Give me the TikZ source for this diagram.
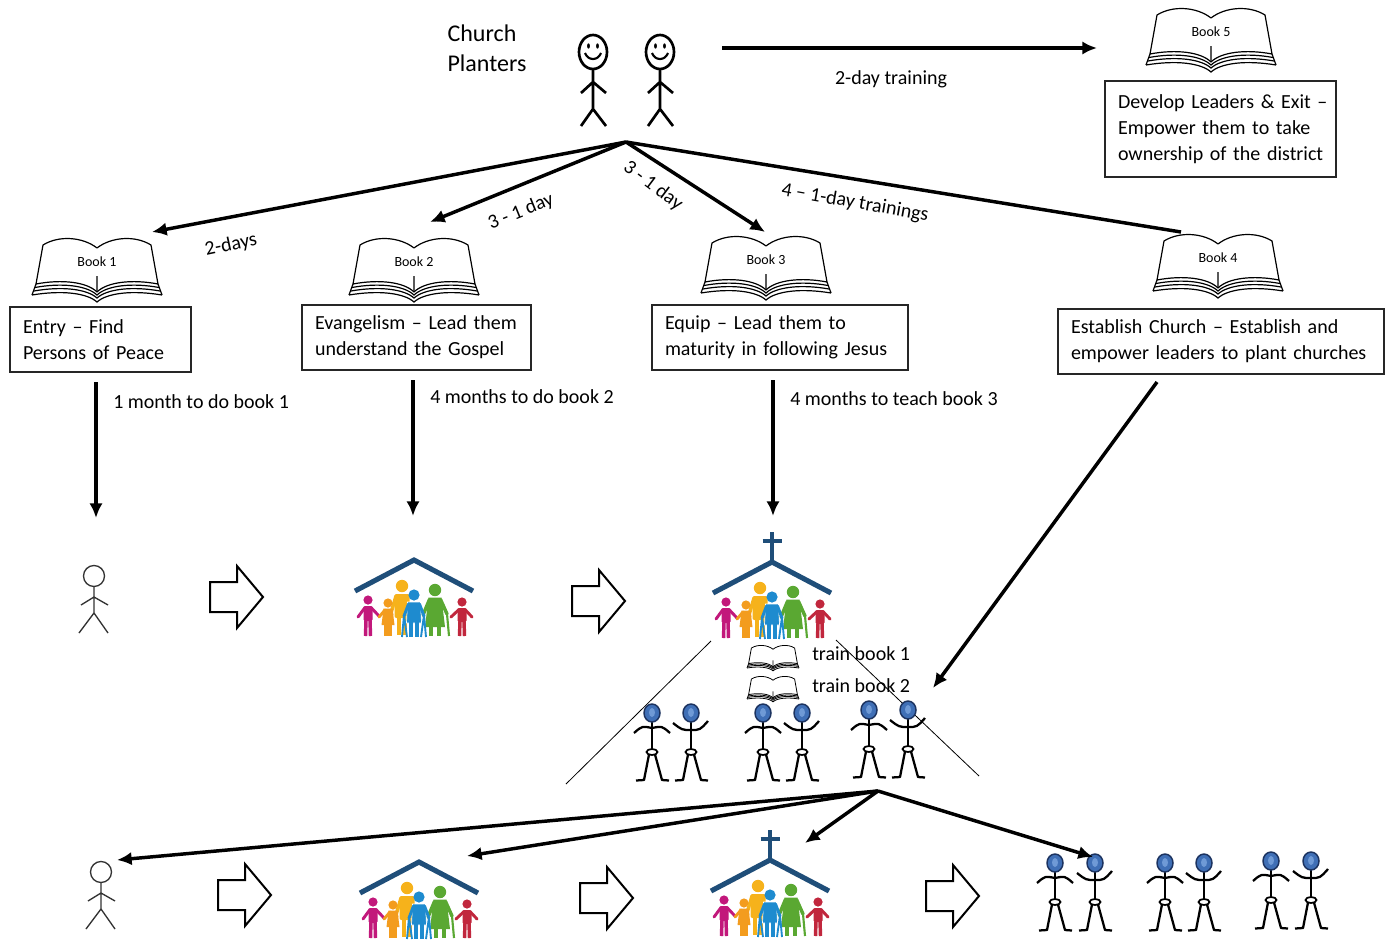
\documentclass[tikz,border=0pt]{standalone}
\usepackage{fontspec}
\setmainfont{Carlito}
\usetikzlibrary{arrows.meta}

\definecolor{roofblue}{HTML}{1F4E79}
\definecolor{kidmag}{HTML}{C2187B}
\definecolor{kidora}{HTML}{F39C1E}
\definecolor{adultyel}{HTML}{F6B21B}
\definecolor{elderblu}{HTML}{1E8BCF}
\definecolor{grangrn}{HTML}{5AA832}
\definecolor{kidred}{HTML}{C1273D}
\definecolor{headfill}{HTML}{3F6FB6}
\definecolor{headrim}{HTML}{1C3360}
\definecolor{headlite}{HTML}{6F9AD6}

% the family under a roof
\newcommand\familyshapes{%
  \draw[roofblue, line width=3.8pt, line join=miter] (-59,31) -- (0,0) -- (59,31);
  % yellow adult, behind
  \fill[adultyel] (-12,26) circle (6.2);
  \fill[adultyel, rounded corners=1.5pt] (-19.5,34) rectangle (-4.5,58);
  \draw[adultyel, line width=2.6pt, line cap=round] (-18,36) -- (-23,53);
  \draw[adultyel, line width=3pt] (-15,57) -- (-15,75) (-9,57) -- (-9,75);
  % magenta child
  \fill[kidmag] (-46,40) circle (4.6);
  \fill[kidmag, rounded corners=1pt] (-50.5,46) rectangle (-41.5,61);
  \draw[kidmag, line width=2.2pt, line cap=round] (-49,47.5) -- (-56,57) (-43,47.5) -- (-35,56);
  \draw[kidmag, line width=2.6pt] (-48,60) -- (-48.5,76) (-44,60) -- (-43.5,76);
  % orange child
  \fill[kidora] (-26,43) circle (4.6);
  \fill[kidora] (-30.5,48.5) -- (-21.5,48.5) -- (-19.5,65) -- (-32.5,65) -- cycle;
  \draw[kidora, line width=2.2pt, line cap=round] (-29,50) -- (-35,57) (-23,50) -- (-22,55);
  \draw[kidora, line width=2.6pt] (-28,64) -- (-28,76) (-24,64) -- (-24,76);
  % green grandmother with cane
  \fill[grangrn] (21,30) circle (6.2);
  \fill[grangrn] (14.5,37.5) -- (27.5,37.5) -- (31,67) -- (11,67) -- cycle;
  \draw[grangrn, line width=2.6pt, line cap=round] (15.5,39.5) -- (9,55) (26.5,39.5) -- (33,54);
  \draw[grangrn, line width=2.8pt] (17,66) -- (17,76) (25,66) -- (25,76);
  \draw[grangrn, line width=1.6pt] (33,54) -- (35,76);
  % crimson child
  \fill[kidred] (48,42) circle (4.6);
  \fill[kidred, rounded corners=1pt] (43.5,48) rectangle (52.5,62);
  \draw[kidred, line width=2.2pt, line cap=round] (45,49.5) -- (37,57) (51,49.5) -- (58,57);
  \draw[kidred, line width=2.6pt] (46,61) -- (45.5,76) (50,61) -- (50.5,76);
  % blue elder with walker, in front
  \fill[elderblu] (0,35) circle (5.6);
  \fill[elderblu, draw=white, line width=0.5pt] (-6.5,42) -- (6.5,42) -- (7.5,63) -- (-7.5,63) -- cycle;
  \draw[elderblu, line width=2.2pt, line cap=round] (-5.5,44) -- (-10,56) (5.5,44) -- (10,56);
  \draw[elderblu, line width=2.8pt] (-3,62) -- (-3,77) (3,62) -- (3,77);
  \draw[elderblu, line width=1.4pt] (-10,55) -- (-12,77) (-10,55) -- (-7,77) (10,55) -- (12,77) (10,55) -- (7,77);
}

% stick figure with a blue head
\newcommand\bluebody{%
  \draw[line width=1.7pt] (0,9) -- (0,36);
  \draw[line width=1.3pt, fill=white] (0,39) ellipse [x radius=5.5, y radius=3];
  \draw[line width=1.7pt, line join=round] (-3,41.5) -- (-8,67) -- (-16,67.5) (3,41.5) -- (10,67) -- (17,67.5);
  \filldraw[fill=headfill, draw=headrim, line width=1.1pt] (0,0) ellipse [x radius=8, y radius=9];
  \fill[headlite] (0,-0.5) ellipse [x radius=3, y radius=4.5];
}

\tikzset{
  txt/.style={font=\fontsize{15}{19.5}\selectfont, inner sep=0pt},
  box/.style={draw=black!85, line width=0.8pt, font=\fontsize{15}{19.5}\selectfont,
    align=left, inner xsep=9.75pt, inner ysep=0pt},
  bigarrow/.style={line width=2.6pt, -{Latex[length=11pt,width=10pt]}},
  plainline/.style={line width=2.6pt},
  thinline/.style={line width=0.6pt},
  blockarrow/.style={draw=black, line width=1.5pt, line join=miter, fill=white},
  pics/book/.style={code={
    \filldraw[fill=white, line width=\booklw, line join=round]
      (-61,14) -- (-54,-25) .. controls (-38,-35) and (-14,-33) .. (0,-22)
      .. controls (14,-33) and (38,-35) .. (54,-25) -- (61,14)
      .. controls (35,9) and (10,12) .. (0,22)
      .. controls (-10,12) and (-35,9) .. (-61,14) -- cycle;
    \draw[line width=\booklw] (-62,17.5) .. controls (-35,12.5) and (-10,15.5) .. (0,25)
      .. controls (10,15.5) and (35,12.5) .. (62,17.5);
    \draw[line width=\booklw] (-63,21) .. controls (-35,16) and (-10,19) .. (0,28)
      .. controls (10,19) and (35,16) .. (63,21);
    \draw[line width=\booklw] (-65,25) .. controls (-35,20) and (-10,23) .. (0,32)
      .. controls (10,23) and (35,20) .. (65,25);
    \draw[line width=\booklw] (-61,14) -- (-65,25) (61,14) -- (65,25) (0,6) -- (0,22);
    \node[font=\fontsize{10.5}{10.5}\selectfont, inner sep=0pt] (-lbl) at (0,-8) {#1};
  }},
  pics/smiley/.style={code={
    \draw[line width=2pt] (0,0) ellipse [x radius=14, y radius=17];
    \fill (-4.5,-6) ellipse [x radius=1.4, y radius=2.7];
    \fill (4.5,-6) ellipse [x radius=1.4, y radius=2.7];
    \draw[line width=1.6pt] (-8,1) .. controls (-5,9) and (5,9) .. (8,1);
    \draw[line width=2pt] (0,17) -- (0,57) (-12,41) -- (0,30) -- (13,41) (-12,74) -- (0,57) -- (13,74);
  }},
  pics/stick/.style={code={
    \draw[line width=1pt, draw=black!80] (0,0) circle (10.5);
    \draw[line width=1pt, draw=black!80] (0,10.5) -- (0,37) (-13,29) -- (0,21) -- (14,29)
      (-15,57) -- (0,37) -- (14,57);
  }},
  pics/fatarrow/.style={code={
    \draw[blockarrow] (0,-15) -- (27,-15) -- (27,-31) -- (53,0) -- (27,31) -- (27,15) -- (0,15) -- cycle;
  }},
  pics/family/.style={code={\familyshapes}},
  pics/church/.style={code={
    \familyshapes
    \draw[roofblue, line width=3pt] (0,-30) -- (0,0) (-9.5,-21) -- (9.5,-21);
  }},
  pics/bluedown/.style={code={
    \bluebody
    \draw[line width=1.7pt] (-18,20) .. controls (-10,13) .. (0,15) .. controls (10,13) .. (18,20);
  }},
  pics/blueup/.style={code={
    \bluebody
    \draw[line width=1.7pt] (-18,10) .. controls (-9,17) .. (0,17) .. controls (9,17) .. (17,8);
  }},
}
\newcommand\booklw{0.9pt}

\begin{document}
\begin{tikzpicture}[x=0.75pt, y=-0.75pt]
\useasboundingbox (0,0) rectangle (1385,939);
\fill[white] (0,0) rectangle (1385,939);

% ---------- church planters and district leaders ----------
\node[font=\fontsize{18}{22.5}\selectfont, align=left, inner sep=0pt] (planters) at (487,48) {Church\\Planters};
\pic at (593,52) {smiley};
\pic at (660,52) {smiley};

\coordinate (trainstart) at (722,48);
\coordinate (trainend) at (1097,48);
\draw[bigarrow] (trainstart) -- (trainend);
\node[txt] (twoday) at (891,79) {2-day training};

\pic (bk5) at (1211,40) {book=Book 5};
\node[box, text width=153.75pt, minimum height=72pt] (develop) at (1220.5,129)
  {\mbox{Develop Leaders \& Exit –}\\\mbox{Empower them to take}\\\mbox{ownership of the district}};

% ---------- the four training books ----------
\pic (bk1) at (97,270) {book=Book 1};
\pic (bk2) at (414,270) {book=Book 2};
\pic (bk3) at (766,268) {book=Book 3};
\pic (bk4) at (1218,266) {book=Book 4};

\node[box, text width=116.25pt, minimum height=48.75pt] (entry) at (100.5,339.5)
  {\mbox{Entry – Find}\\\mbox{Persons of Peace}};
\node[box, text width=152.25pt, minimum height=48.75pt] (evang) at (416.5,337.5)
  {\mbox{Evangelism – Lead them}\\\mbox{understand the Gospel}};
\node[box, text width=172.5pt, minimum height=48.75pt] (equip) at (780,337.5)
  {\mbox{Equip – Lead them to}\\\mbox{maturity in following Jesus}};
\node[box, text width=225pt, minimum height=48.75pt] (establish) at (1221,341.5)
  {\mbox{Establish Church – Establish and}\\\mbox{empower leaders to plant churches}};

% fan of trainings
\coordinate (fan) at (626,142);
\coordinate (tip1) at (152,232);
\coordinate (tip2) at (430,222);
\coordinate (tip3) at (765,232);
\coordinate (end4) at (1181,232);
\draw[bigarrow] (fan) -- (tip1);
\draw[bigarrow] (fan) -- (tip2);
\draw[bigarrow] (fan) -- (tip3);
\draw[plainline] (fan) -- (end4);
\node[txt, rotate=12] (lab1) at (231,245) {2-days};
\node[txt, rotate=22] (lab2) at (521,212) {3 - 1 day};
\node[txt, rotate=-37] (lab3) at (653,186) {3 - 1 day};
\node[txt, rotate=-10] (lab4) at (855,203) {4 – 1-day trainings};

% ---------- from the books down to the results ----------
\coordinate (v1a) at (96,382);  \coordinate (v1b) at (96,518);
\coordinate (v2a) at (413,380); \coordinate (v2b) at (413,516);
\coordinate (v3a) at (773,380); \coordinate (v3b) at (773,516);
\coordinate (d4a) at (1157,382); \coordinate (d4b) at (933,688);
\draw[bigarrow] (v1a) -- (v1b);
\draw[bigarrow] (v2a) -- (v2b);
\draw[bigarrow] (v3a) -- (v3b);
\draw[bigarrow] (d4a) -- (d4b);
\node[txt, anchor=west] (m1) at (113,402) {1 month to do book 1};
\node[txt, anchor=west] (m2) at (430,397) {4 months to do book 2};
\node[txt, anchor=west] (m3) at (790,399) {4 months to teach book 3};

% ---------- first generation ----------
\pic at (94,576) {stick};
\pic at (210,597) {fatarrow};
\pic at (414,560) {family};
\pic at (572,601) {fatarrow};
\pic at (772,562) {church};

% leaders trained inside the church
\coordinate (sideLa) at (711,641); \coordinate (sideLb) at (566,784);
\coordinate (sideRa) at (836,640); \coordinate (sideRb) at (979,776);
\renewcommand\booklw{0.6pt}
\pic[scale=0.4] (tb1) at (773,658) {book=};
\pic[scale=0.4] (tb2) at (773,689) {book=};
\renewcommand\booklw{0.9pt}
\node[txt, anchor=west] (train1) at (812,654) {train book 1};
\node[txt, anchor=west] (train2) at (812,686) {train book 2};
\draw[thinline] (sideLa) -- (sideLb);
\draw[thinline] (sideRa) -- (sideRb);

\pic at (652,713) {bluedown};
\pic at (691,713) {blueup};
\pic at (763,713) {bluedown};
\pic at (802,713) {blueup};
\pic at (869,710) {bluedown};
\pic at (908,710) {blueup};

% ---------- second generation ----------
\pic at (101,872) {stick};
\pic at (218,895) {fatarrow};
\pic at (419,862) {family};
\pic at (580,898) {fatarrow};
\pic at (770,860) {church};
\pic at (926,896) {fatarrow};

\pic at (1055,863) {bluedown};
\pic at (1095,863) {blueup};
\pic at (1165,863) {bluedown};
\pic at (1204,863) {blueup};
\pic at (1271,861) {bluedown};
\pic at (1311,861) {blueup};

\coordinate (fan2) at (878,791);
\coordinate (g1) at (117,860);
\coordinate (g2) at (467,856);
\coordinate (g3) at (805,843);
\coordinate (g4) at (1093,857);
\draw[bigarrow] (fan2) -- (g1);
\draw[bigarrow] (fan2) -- (g2);
\draw[bigarrow] (fan2) -- (g3);
\draw[bigarrow] (fan2) -- (g4);
\end{tikzpicture}
\end{document}
